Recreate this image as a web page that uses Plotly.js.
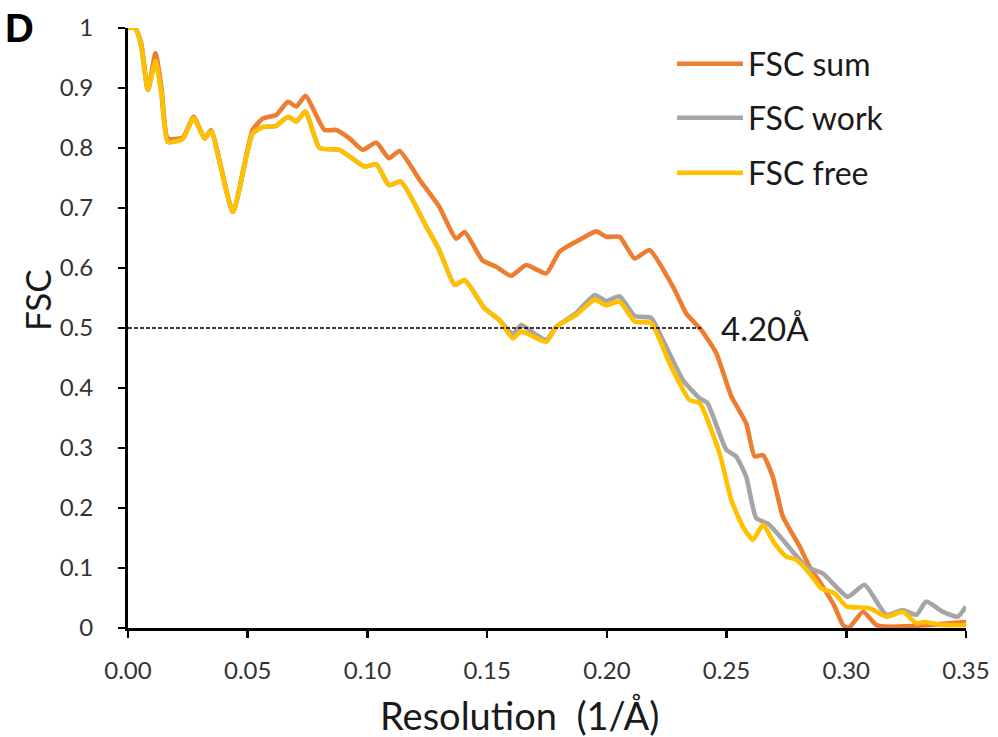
<!DOCTYPE html>
<html>
<head>
<meta charset="utf-8">
<script src="https://cdn.plot.ly/plotly-3.0.1.min.js"></script>
<style>html,body{margin:0;padding:0;background:#fff;}#chart{width:998px;height:737px;}</style>
</head>
<body>
<div id="chart"></div>
<script>
// FSC sum
var sumX = [0, 0.003, 0.0055, 0.0083, 0.0115, 0.014, 0.0166, 0.0228, 0.0274, 0.032, 0.0347, 0.0438, 0.052, 0.0563, 0.0619, 0.0668, 0.0703, 0.0741, 0.0821, 0.087, 0.0925, 0.098, 0.1037, 0.109, 0.1134, 0.1218, 0.130, 0.137, 0.1406, 0.148, 0.1538, 0.160, 0.1663, 0.1747, 0.1802, 0.1886, 0.1956, 0.1997, 0.2053, 0.2116, 0.2178, 0.2276, 0.2332, 0.2394, 0.2457, 0.252, 0.2582, 0.2617, 0.2652, 0.2693, 0.2735, 0.2805, 0.2847, 0.2902, 0.2951, 0.2986, 0.301, 0.307, 0.3125, 0.318, 0.325, 0.335, 0.343, 0.35];
var sumY = [1.0, 1.0, 0.975, 0.897, 0.958, 0.90, 0.816, 0.817, 0.852, 0.816, 0.83, 0.694, 0.83, 0.849, 0.855, 0.877, 0.869, 0.887, 0.83, 0.83, 0.816, 0.797, 0.809, 0.783, 0.795, 0.747, 0.702, 0.649, 0.66, 0.613, 0.602, 0.587, 0.605, 0.591, 0.627, 0.647, 0.661, 0.652, 0.652, 0.616, 0.63, 0.569, 0.524, 0.497, 0.458, 0.386, 0.341, 0.286, 0.288, 0.252, 0.186, 0.136, 0.102, 0.069, 0.036, 0.005, 0.0, 0.027, 0.005, 0.002, 0.003, 0.005, 0.008, 0.01];

// FSC work
var workX = [0, 0.003, 0.0055, 0.0083, 0.0115, 0.014, 0.0166, 0.0228, 0.0274, 0.032, 0.0347, 0.0438, 0.052, 0.0563, 0.0619, 0.0668, 0.0703, 0.0741, 0.08, 0.0883, 0.0988, 0.1037, 0.109, 0.114, 0.1246, 0.130, 0.1364, 0.1406, 0.1489, 0.1552, 0.1607, 0.1642, 0.17, 0.1747, 0.1789, 0.1872, 0.1949, 0.1997, 0.2053, 0.2116, 0.2185, 0.2234, 0.2318, 0.2387, 0.242, 0.2499, 0.254, 0.2582, 0.2624, 0.2673, 0.2735, 0.2833, 0.2902, 0.3006, 0.3076, 0.3167, 0.3237, 0.3293, 0.3334, 0.3404, 0.3466, 0.35];
var workY = [1.0, 1.0, 0.97, 0.897, 0.945, 0.89, 0.81, 0.815, 0.85, 0.816, 0.828, 0.694, 0.824, 0.835, 0.837, 0.852, 0.844, 0.861, 0.80, 0.797, 0.769, 0.773, 0.738, 0.744, 0.669, 0.63, 0.572, 0.58, 0.533, 0.513, 0.49, 0.505, 0.49, 0.48, 0.502, 0.525, 0.555, 0.545, 0.553, 0.52, 0.517, 0.48, 0.413, 0.383, 0.375, 0.297, 0.286, 0.252, 0.183, 0.174, 0.147, 0.102, 0.091, 0.052, 0.072, 0.022, 0.03, 0.022, 0.044, 0.027, 0.019, 0.036];

// FSC free
var freeX = [0, 0.003, 0.0055, 0.0083, 0.0115, 0.014, 0.0166, 0.0228, 0.0274, 0.032, 0.0347, 0.0438, 0.052, 0.0563, 0.0619, 0.0668, 0.0703, 0.0741, 0.08, 0.0883, 0.0988, 0.1037, 0.109, 0.114, 0.1246, 0.130, 0.1364, 0.1406, 0.1489, 0.1552, 0.1607, 0.1642, 0.1747, 0.1789, 0.1872, 0.1949, 0.1997, 0.2053, 0.2116, 0.2185, 0.2262, 0.2345, 0.2387, 0.2471, 0.252, 0.2568, 0.261, 0.2652, 0.27, 0.2749, 0.279, 0.2847, 0.2896, 0.2951, 0.3, 0.3097, 0.3167, 0.3237, 0.3293, 0.333, 0.34, 0.35];
var freeY = [1.0, 1.0, 0.97, 0.897, 0.945, 0.89, 0.81, 0.815, 0.85, 0.816, 0.828, 0.694, 0.824, 0.835, 0.837, 0.852, 0.844, 0.861, 0.80, 0.797, 0.769, 0.773, 0.738, 0.744, 0.669, 0.63, 0.572, 0.58, 0.533, 0.513, 0.483, 0.494, 0.477, 0.502, 0.522, 0.547, 0.538, 0.544, 0.511, 0.508, 0.441, 0.38, 0.375, 0.291, 0.213, 0.169, 0.147, 0.172, 0.141, 0.119, 0.114, 0.091, 0.066, 0.058, 0.036, 0.033, 0.019, 0.027, 0.008, 0.01, 0.005, 0.005];

// 0.5 threshold line and resolution label
var threshX = [0, 0.2394];
var threshY = [0.5, 0.5];
var resLabel = '4.20Å';
var resLabelX = 0.2468;

var xTicks = [0, 0.05, 0.10, 0.15, 0.20, 0.25, 0.30, 0.35];
var yTicks = [0, 0.1, 0.2, 0.3, 0.4, 0.5, 0.6, 0.7, 0.8, 0.9, 1];

var FONT = 'Lato, "Open Sans", sans-serif';
var lineShape = {shape: 'spline', smoothing: 0.5, width: 4.6};

var traces = [
  {x: sumX, y: sumY, name: 'FSC sum', type: 'scatter', mode: 'lines',
   line: Object.assign({color: '#ED7D31'}, lineShape), legend: 'legend'},
  {x: workX, y: workY, name: 'FSC work', type: 'scatter', mode: 'lines',
   line: Object.assign({color: '#A5A5A5'}, lineShape), legend: 'legend2'},
  {x: freeX, y: freeY, name: 'FSC free', type: 'scatter', mode: 'lines',
   line: Object.assign({color: '#FFC000'}, lineShape), legend: 'legend3'},
  {x: threshX, y: threshY, type: 'scatter', mode: 'lines', showlegend: false,
   line: {color: '#000', width: 1.4, dash: '4px,2px'}, hoverinfo: 'skip'}
];

function leg(ypx) {
  return {x: (672 - 128) / 838, y: (628 - ypx) / 600, xanchor: 'left', yanchor: 'middle',
    bgcolor: 'rgba(0,0,0,0)', borderwidth: 0, itemwidth: 66,
    font: {family: FONT, size: 32, color: '#1a1a1a'}};
}

var layout = {
  width: 998, height: 737,
  margin: {l: 128, r: 32, t: 28, b: 109},
  paper_bgcolor: '#fff', plot_bgcolor: '#fff',
  showlegend: true,
  legend: leg(64), legend2: leg(118), legend3: leg(173),
  xaxis: {
    range: [0, 0.35], tickvals: xTicks, tickformat: '.2f',
    showgrid: false, zeroline: false, showline: true, linecolor: '#000', linewidth: 3,
    ticks: 'outside', ticklen: 7, tickwidth: 2.5, tickcolor: '#000',
    ticklabelstandoff: 12,
    tickfont: {family: FONT, size: 24, color: '#333'}
  },
  yaxis: {
    range: [0, 1], tickvals: yTicks,
    showgrid: false, zeroline: false, showline: true, linecolor: '#000', linewidth: 3,
    ticks: 'outside', ticklen: 7, tickwidth: 2.5, tickcolor: '#000',
    ticklabelstandoff: 20,
    tickfont: {family: FONT, size: 24, color: '#333'}
  },
  annotations: [
    {xref: 'paper', yref: 'paper', x: (520 - 128) / 838, y: (628 - 715) / 600,
     text: 'Resolution  (1/Å)', showarrow: false, xanchor: 'center', yanchor: 'middle',
     font: {family: FONT, size: 38, color: '#1a1a1a'}},
    {xref: 'paper', yref: 'paper', x: (37 - 128) / 838, y: (628 - 300) / 600,
     text: 'FSC', textangle: -90, showarrow: false, xanchor: 'center', yanchor: 'middle',
     font: {family: FONT, size: 35, color: '#1a1a1a'}},
    {xref: 'x', yref: 'y', x: resLabelX, y: 0.5, text: resLabel, showarrow: false,
     xanchor: 'left', yanchor: 'middle',
     font: {family: FONT, size: 33, color: '#1a1a1a'}},
    {xref: 'paper', yref: 'paper', x: (36 - 128) / 838, y: (628 - 28) / 600,
     text: '<b>D</b>', showarrow: false, xanchor: 'right', yanchor: 'middle',
     font: {family: '"Liberation Sans", Arial, sans-serif', size: 40, color: '#000'}}
  ]
};

Plotly.newPlot('chart', traces, layout, {staticPlot: true, displayModeBar: false});
</script>
</body>
</html>
